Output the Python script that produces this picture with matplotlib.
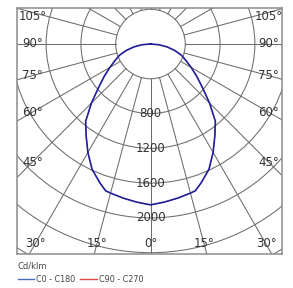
import numpy as np
import matplotlib.pyplot as plt
from matplotlib.patches import Circle
from matplotlib.lines import Line2D

# luminous intensity (cd/klm) against angle from nadir, symmetric curve
angles = [0, 5, 10, 15, 17, 20, 25, 30, 35, 40, 45, 50, 55, 60, 65, 70, 75, 80, 85, 90]
c0_c180 = [1850, 1825, 1800, 1775, 1765, 1700, 1590, 1440, 1290, 1160, 960, 780,
           650, 540, 450, 380, 290, 195, 100, 0]
c90_c270 = [1850, 1825, 1800, 1775, 1765, 1700, 1590, 1440, 1290, 1160, 960, 780,
            650, 540, 450, 380, 290, 195, 100, 0]

rings = [400, 800, 1200, 1600, 2000, 2400, 2800]
ring_labels = ['800', '1200', '1600', '2000']
side_angles = [45, 60, 75, 90, 105]
bottom_angles = [0, 15, 30]
legend_labels = ['C0 - C180', 'C90 - C270']

grid_col = '#6c6c6c'
text_col = '#333333'


def to_xy(ang, val):
    a = np.radians(np.concatenate([-np.array(ang[::-1]), np.array(ang[1:])]))
    r = np.concatenate([np.array(val[::-1]), np.array(val[1:])])
    return r * np.sin(a), -r * np.cos(a)


fig = plt.figure(figsize=(2.93, 2.88), dpi=100)
ax = fig.add_axes([17 / 293, 34 / 288, 265 / 293, 246 / 288])
ax.set_xlim(-1535, 1512)
ax.set_ylim(-2415, 414)

# radial lines every 15 deg, starting at the inner ring
for d in range(0, 360, 15):
    t = np.radians(d)
    ax.plot([400 * np.sin(t), 3200 * np.sin(t)], [-400 * np.cos(t), -3200 * np.cos(t)],
            color=grid_col, lw=0.75, zorder=1)

for r in rings:
    ax.add_patch(Circle((0, 0), r, fill=False, ec=grid_col, lw=0.75, zorder=1))

# ring values on the 0 deg line
for lab in ring_labels:
    ax.text(0, -float(lab), lab, ha='center', va='center', fontsize=8.5,
            color=text_col, zorder=3)

# angle labels near frame
xin, yin, ytop = 1357, 2300, 320
for d in side_angles:
    t = np.radians(d)
    s = xin / np.sin(t)
    for sgn in (-1, 1):
        ax.text(sgn * s * np.sin(t), min(-s * np.cos(t), ytop), f'{d}°', ha='center',
                va='center', fontsize=8.5, color=text_col, zorder=3)
for d in bottom_angles:
    t = np.radians(d)
    s = yin / np.cos(t)
    for sgn in ((1,) if d == 0 else (-1, 1)):
        ax.text(sgn * s * np.sin(t), -yin, f'{d}°', ha='center', va='center',
                fontsize=8.5, color=text_col, zorder=3)

x2, y2 = to_xy(angles, c90_c270)
ax.plot(x2, y2, color='#e03030', lw=0.5, zorder=4)
x1, y1 = to_xy(angles, c0_c180)
ax.plot(x1, y1, color='#20209a', lw=1.2, zorder=5)

ax.set_xticks([])
ax.set_yticks([])
for sp in ax.spines.values():
    sp.set_color('#8c8c8c')
    sp.set_linewidth(1.1)

handles = [Line2D([], [], color='#4a6cc8', lw=1.0), Line2D([], [], color='#e8464a', lw=1.0)]
leg = fig.legend(handles, legend_labels, loc='lower left', bbox_to_anchor=(0.035, -0.01),
                 ncol=2, frameon=False, fontsize=5.8, handlelength=2.0, handletextpad=0.35,
                 columnspacing=0.6, title='Cd/klm', title_fontsize=6, alignment='left',
                 labelcolor='#444444')
leg.get_title().set_color('#444444')

fig.savefig('out.png', dpi=100)
